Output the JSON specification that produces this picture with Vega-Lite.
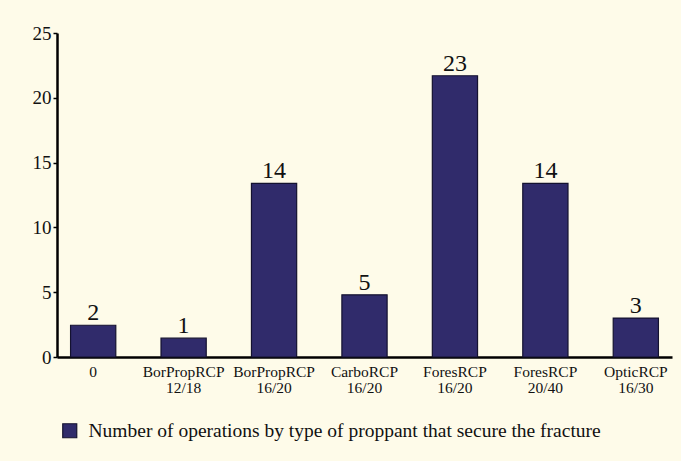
{
  "$schema": "https://vega.github.io/schema/vega-lite/v6.json",
  "autosize": "none",
  "width": 615,
  "height": 324,
  "padding": {"left": 57, "top": 33, "right": 9, "bottom": 104},
  "background": "#fefbe9",
  "config": {
    "view": {"stroke": null},
    "font": "'Liberation Serif', 'DejaVu Serif', serif"
  },
  "data": {
    "values": [
      {"proppant": "0", "count": 2.45, "label": "2", "series": "Number of operations by type of proppant that secure the fracture"},
      {"proppant": "BorPropRCP|12/18", "count": 1.45, "label": "1", "series": "Number of operations by type of proppant that secure the fracture"},
      {"proppant": "BorPropRCP|16/20", "count": 13.4, "label": "14", "series": "Number of operations by type of proppant that secure the fracture"},
      {"proppant": "CarboRCP|16/20", "count": 4.8, "label": "5", "series": "Number of operations by type of proppant that secure the fracture"},
      {"proppant": "ForesRCP|16/20", "count": 21.7, "label": "23", "series": "Number of operations by type of proppant that secure the fracture"},
      {"proppant": "ForesRCP|20/40", "count": 13.4, "label": "14", "series": "Number of operations by type of proppant that secure the fracture"},
      {"proppant": "OpticRCP|16/30", "count": 3.0, "label": "3", "series": "Number of operations by type of proppant that secure the fracture"}
    ]
  },
  "encoding": {
    "x": {
      "field": "proppant",
      "type": "nominal",
      "sort": null,
      "title": null,
      "scale": {"paddingInner": 0.5, "paddingOuter": 0.15},
      "axis": {
        "labelAngle": 0,
        "labelExpr": "split(datum.label, '|')",
        "labelFont": "'Liberation Serif', serif",
        "labelFontSize": 15.5,
        "labelLineHeight": 16,
        "labelColor": "#111",
        "labelPadding": 7,
        "labelOverlap": false,
        "ticks": false,
        "domainColor": "#000",
        "domainWidth": 2.5
      }
    },
    "y": {
      "field": "count",
      "type": "quantitative",
      "title": null,
      "scale": {"domain": [0, 25]},
      "axis": {
        "values": [0, 5, 10, 15, 20, 25],
        "grid": false,
        "labelFont": "'Liberation Serif', serif",
        "labelFontSize": 19,
        "labelColor": "#111",
        "labelPadding": 2,
        "tickSize": 4,
        "tickColor": "#000",
        "tickWidth": 1.5,
        "domainColor": "#000",
        "domainWidth": 2.5
      }
    }
  },
  "layer": [
    {
      "mark": {"type": "bar", "stroke": "#141230", "strokeWidth": 1.2},
      "encoding": {
        "color": {
          "field": "series",
          "type": "nominal",
          "scale": {"range": ["#302b6b"]},
          "legend": {
            "title": null,
            "orient": "none",
            "legendX": 3,
            "legendY": 388,
            "padding": 0,
            "symbolType": "square",
            "symbolSize": 196,
            "symbolStrokeColor": "#141230",
            "symbolStrokeWidth": 1.2,
            "symbolOpacity": 1,
            "labelFont": "'Liberation Serif', serif",
            "labelFontSize": 19.5,
            "labelColor": "#111",
            "labelOffset": 9,
            "labelLimit": 0
          }
        }
      }
    },
    {
      "mark": {"type": "text", "baseline": "bottom", "dy": 0, "fontSize": 24, "font": "'Liberation Serif', serif", "color": "#111"},
      "encoding": {"text": {"field": "label"}}
    }
  ]
}
